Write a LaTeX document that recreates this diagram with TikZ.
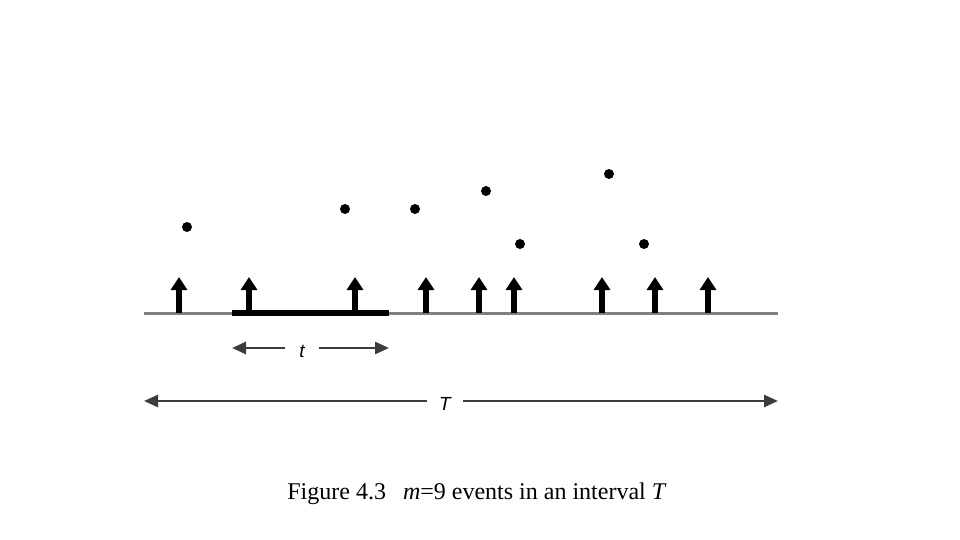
\documentclass[tikz,border=0pt]{standalone}
\usepackage{fontspec}
\setmainfont{Liberation Serif}
\newfontfamily\labelfont{Liberation Sans}
\usetikzlibrary{arrows.meta}
\definecolor{Axis}{HTML}{808080}
\definecolor{Span}{HTML}{3C3C3C}

\begin{document}
\begin{tikzpicture}[x=1pt,y=-1pt,
  event/.style={-{Triangle[width=16pt,length=13pt]},line width=5.5pt},
  dot/.style={circle,fill=black,inner sep=0pt,minimum size=10pt},
  span/.style={Span,line width=2.5pt,-{Triangle[width=12pt,length=14pt]}},
  lbl/.style={font=\labelfont\itshape\fontsize{19}{22}\selectfont,inner sep=2pt}]
  \useasboundingbox (0,0) rectangle (960,540);
  % time axis and the window of length t
  \coordinate (a0) at (144,313);
  \coordinate (a1) at (778,313);
  \coordinate (w0) at (232,313);
  \coordinate (w1) at (389,313);
  \draw[Axis,line width=3pt] (a0) -- (a1);
  \draw[black,line width=5.5pt] (w0) -- (w1);
  % the m=9 events
  \foreach \x [count=\i] in {179,249,355,426,479,514,602,655,708} {
    \coordinate (e\i) at (\x,313);
    \draw[event] (e\i) -- ++(0,-36);
  }
  % points above
  \node[dot] (p1) at (187,227) {};
  \node[dot] (p2) at (345,209) {};
  \node[dot] (p3) at (415,209) {};
  \node[dot] (p4) at (486,191) {};
  \node[dot] (p5) at (520,244) {};
  \node[dot] (p6) at (609,174) {};
  \node[dot] (p7) at (644,244) {};
  % interval lengths
  \node[lbl,minimum width=34pt] (t) at (302,351) {t};
  \coordinate (t0) at (232,348);
  \coordinate (t1) at (389,348);
  \draw[span] (t.west |- t0) -- (t0);
  \draw[span] (t.east |- t1) -- (t1);
  \node[lbl,minimum width=36pt] (T) at (445,404) {T};
  \coordinate (T0) at (144,401);
  \coordinate (T1) at (778,401);
  \draw[span] (T.west |- T0) -- (T0);
  \draw[span] (T.east |- T1) -- (T1);
  \node[font=\fontsize{24}{28}\selectfont] (cap) at (477,494)
    {Figure 4.3\hspace{17pt}\textit{m}=9 events in an interval \textit{T}};
\end{tikzpicture}
\end{document}
